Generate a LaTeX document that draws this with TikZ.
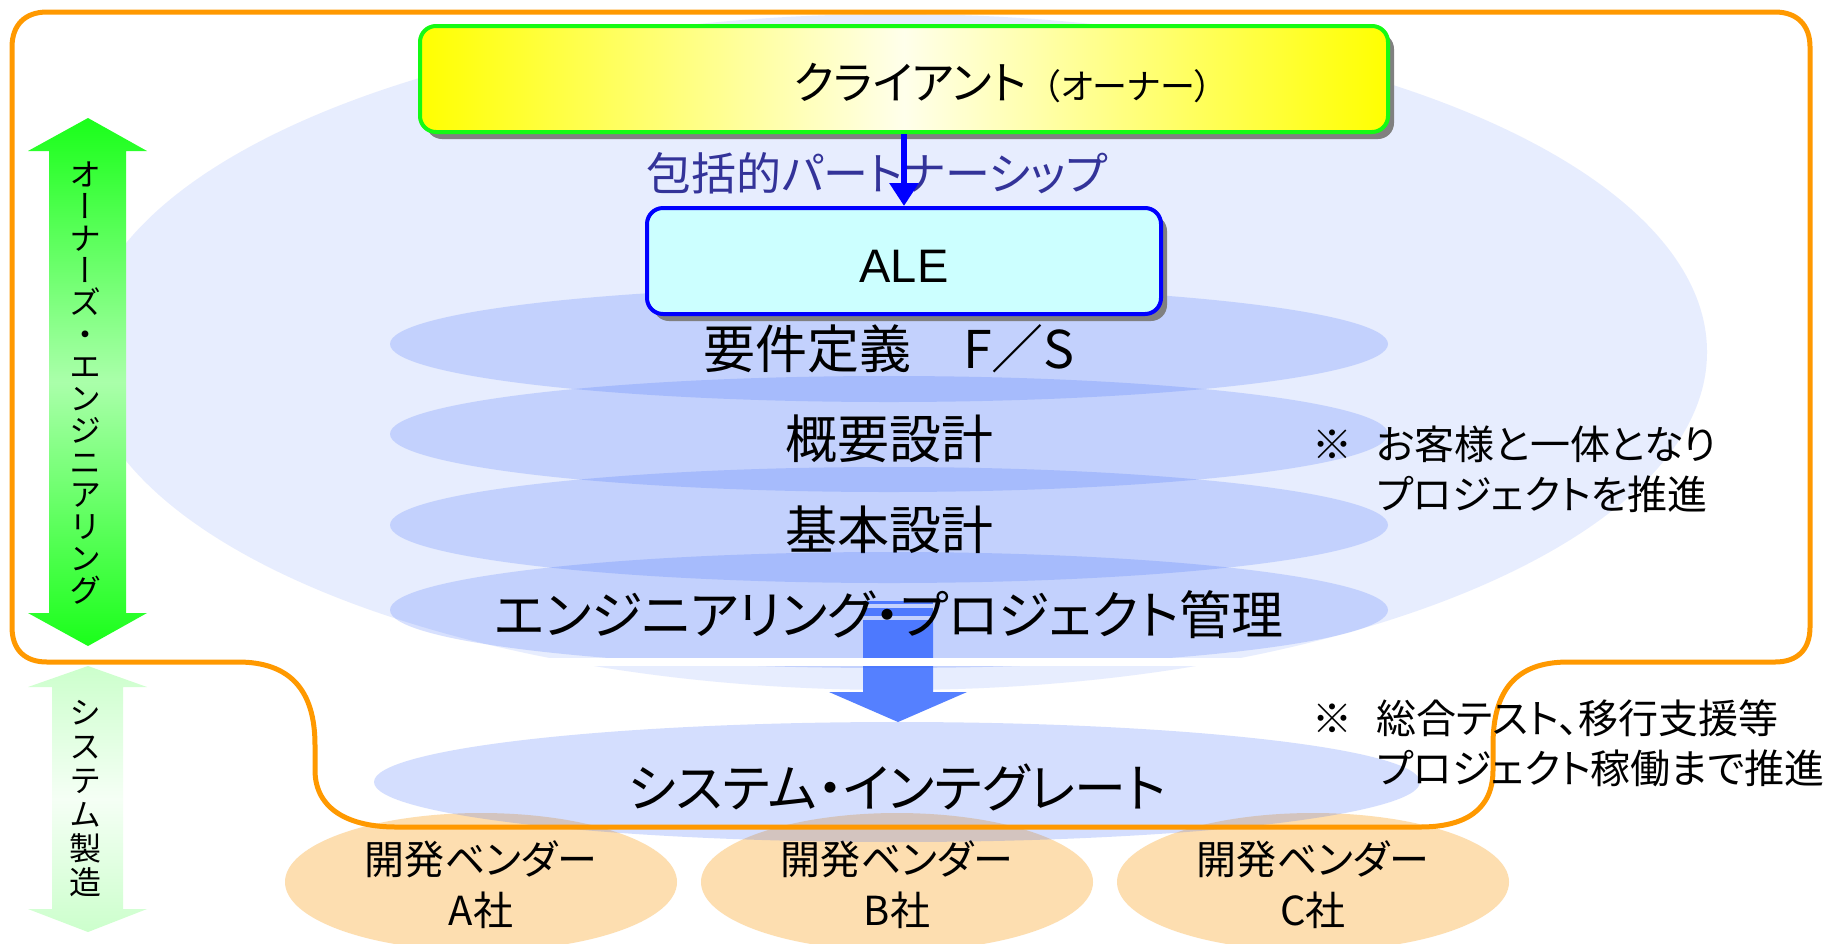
\documentclass[tikz,border=0pt]{standalone}
\usepackage{fontspec}
\setmainfont{Noto Sans CJK JP}[RawFeature={+palt}]
\newfontfamily\vfont{Noto Sans CJK JP}[RawFeature={+vert}]
\newfontfamily\alefont{Liberation Sans}
\usetikzlibrary{arrows.meta}
\usetikzlibrary{shapes.geometric}
\usetikzlibrary{shadows}

\definecolor{orng}{RGB}{255,153,0}
\definecolor{lyr}{RGB}{43,93,252}
\definecolor{blk}{RGB}{85,128,255}
\definecolor{vend}{RGB}{253,222,176}
\definecolor{ptxt}{RGB}{51,51,153}
\definecolor{alefill}{RGB}{204,255,255}
\definecolor{grnline}{RGB}{20,250,20}
\definecolor{ownend}{RGB}{26,255,26}
\definecolor{ownmid}{RGB}{170,255,170}
\definecolor{sysend}{RGB}{204,255,204}
\definecolor{sysmid}{RGB}{245,255,245}
\definecolor{shd}{RGB}{128,128,128}

\tikzset{
	pics/phase/.style n args={2}{
		code = {
			\node[phaseell, label={[phasetxt]center:#2}] (-ell) at (889, #1) {};
		}
	},
	pics/vendor/.style n args={2}{
		code = {
			\node[vendell, label={[vendtxt]center:{開発ベンダー\\#2社}}] (-ell) at (#1, 882) {};
		}
	}
}

\begin{document}
\begin{tikzpicture}[x=0.5pt, y=-0.5pt, every node/.style={inner sep=0pt},
	bgell/.style={ellipse, fill=lyr, fill opacity=0.11, minimum width=812pt, minimum height=338pt},
	phaseell/.style={ellipse, fill=lyr, fill opacity=0.19, minimum width=499pt, minimum height=58pt},
	phasetxt/.style={font=\fontsize{26}{30}\selectfont, yshift=-2.5pt},
	vendell/.style={ellipse, fill=vend, minimum width=196pt, minimum height=69pt},
	vendtxt/.style={align=center, font=\fontsize{20}{25.5}\selectfont, yshift=-1.5pt},
	sibox/.style={ellipse, fill=lyr, fill opacity=0.2, minimum width=523pt, minimum height=60pt},
	clientbox/.style={rectangle, rounded corners=8pt, draw=grnline, line width=2pt, left color=yellow, right color=yellow, middle color=yellow!8, minimum width=484pt, minimum height=53pt, drop shadow={shadow xshift=3pt, shadow yshift=-3.5pt, fill=shd, opacity=1}},
	alebox/.style={rectangle, rounded corners=8pt, draw=blue, line width=2pt, fill=alefill, minimum width=257pt, minimum height=53pt, text height=21.8pt, font=\alefont\fontsize{23.5}{28}\selectfont, drop shadow={shadow xshift=3pt, shadow yshift=-3.5pt, fill=shd, opacity=1}},
	conn/.style={draw=blue, line width=3pt, -{Triangle[length=11.5pt, width=14pt]}},
	outline/.style={draw=orng, line width=2.5pt},
	vtxt/.style={align=center, font=\vfont\fontsize{16}{16}\selectfont},
	note/.style={align=left, font=\fontsize{20}{25}\selectfont}]
	\fill[white] (0,0) rectangle (1834,943);
	\useasboundingbox (0,0) rectangle (1834,943);

	% --- owner side ---
	\node[bgell] (oe) at (895, 352) {};

	\fill[blk] (863,601) rectangle (933,604);
	\fill[blk] (863,608) rectangle (933,616);
	\fill[blk] (863,620) -- (933,620) -- (933,692) -- (967,692) -- (898,722) -- (829,692) -- (863,692) -- cycle;

	\pic (fs)   {phase={344}{要件定義　F／S}};
	\pic (gai)  {phase={434}{概要設計}};
	\pic (kih)  {phase={525}{基本設計}};
	\pic (epm)  {phase={610}{エンジニアリング・プロジェクト管理}};

	\draw[white, line width=4pt] (238,662) -- (1568,662);

	% --- vendors ---
	\pic (venA) {vendor={481}{A}};
	\pic (venB) {vendor={897}{B}};
	\pic (venC) {vendor={1313}{C}};

	\node[sibox, label={[phasetxt]center:システム・インテグレート}] (si) at (897, 782) {};

	\draw[outline] (12,47) -- (12,627) .. controls (12,650) and (25,662) .. (47,662) -- (238,662)
		.. controls (290,662) and (315,690) .. (315,745) -- (315,770)
		.. controls (315,810) and (350,827) .. (396,827) -- (1420,827)
		.. controls (1465,827) and (1493,810) .. (1493,770) -- (1493,745)
		.. controls (1493,690) and (1516,662) .. (1568,662) -- (1775,662)
		.. controls (1797,662) and (1810,650) .. (1810,627) -- (1810,47)
		.. controls (1810,25) and (1797,12) .. (1775,12) -- (47,12)
		.. controls (25,12) and (12,25) .. (12,47) -- cycle;

	% --- side arrows ---
	\shade[top color=ownend, bottom color=ownend, middle color=ownmid] (88,118) -- (147,151) -- (126,151) -- (126,613) -- (147,613) -- (88,646) -- (28,613) -- (49,613) -- (49,151) -- (28,151) -- cycle;
	\shade[top color=sysend, bottom color=sysend, middle color=sysmid] (88,666) -- (147,687) -- (123,687) -- (123,909) -- (147,909) -- (88,932) -- (28,909) -- (52,909) -- (52,687) -- (28,687) -- cycle;
	\node[vtxt] (owntxt) at (85, 383) {オ\\ー\\ナ\\ー\\ズ\\・\\エ\\ン\\ジ\\ニ\\ア\\リ\\ン\\グ};
	\node[vtxt, font=\vfont\fontsize{16}{17}\selectfont] (systxt) at (85, 799) {シ\\ス\\テ\\ム\\製\\造};

	% --- client / ALE ---
	\node[clientbox] (client) at (904, 79) {};
	\node[font=\fontsize{22.5}{26}\selectfont] (clientlbl) at (1003, 83) {クライアント\hspace{8pt}{\fontsize{17.5}{20}\selectfont（オーナー）}};
	\node[text=ptxt, font=\fontsize{22.5}{26}\selectfont] (part) at (877, 173) {包括的パートナーシップ};
	\node[alebox] (ale) at (904, 261) {ALE};
	\draw[conn] (client) -- (ale);

	% --- notes ---
	\node[note, anchor=north west] (note1) at (1376, 425) {\llap{※\hspace{12pt}}お客様と一体となり\\プロジェクトを推進};
	\node[note, anchor=north west] (note2) at (1376, 699) {\llap{※\hspace{12pt}}総合テスト、移行支援等\\プロジェクト稼働まで推進};

\end{tikzpicture}
\end{document}
